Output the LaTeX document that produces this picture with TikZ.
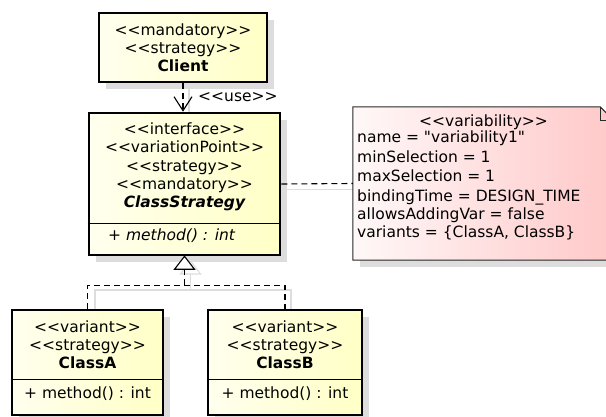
\documentclass[tikz,border=0pt]{standalone}
\usepackage{fontspec}
\newfontfamily\umlfont{DejaVu Sans}
\usetikzlibrary{arrows.meta,shadows}

\definecolor{boxlite}{RGB}{255,255,238}
\definecolor{boxdeep}{RGB}{255,255,198}
\definecolor{notelite}{RGB}{255,248,248}
\definecolor{notedeep}{RGB}{255,200,200}
\definecolor{shadegray}{RGB}{221,221,221}
\definecolor{notebord}{RGB}{40,40,40}

\tikzset{
  classbox/.style={rectangle, draw=black, line width=2.6pt, inner sep=0pt,
    left color=boxlite, right color=boxdeep,
    drop shadow={shadow xshift=7pt, shadow yshift=-7pt, fill=shadegray, opacity=1}},
  notebox/.style={rectangle, inner sep=0pt},
  txt/.style={font=\umlfont\fontsize{15.5}{18}\selectfont, inner sep=0pt},
  sepline/.style={draw=black, line width=1.1pt},
  depline/.style={draw=black, line width=1.1pt, dash pattern=on 6pt off 4pt},
  conshadow/.style={draw=shadegray, line width=1.1pt, shift={(6,6)}},
  opentip/.style={-{Straight Barb[length=14pt, width=18pt, line width=1.1pt]}},
}
\newcommand\umltext[5][base]{\node[txt, anchor=#1] (#2) at (#3,#4) {#5};}

\begin{document}
\begin{tikzpicture}[x=1pt, y=-1pt]
\useasboundingbox (0,0) rectangle (606,417);
\clip (0,0) rectangle (606,417);

% light shadows of the connectors
\draw[conshadow] (183,82) -- (183,113);
\draw[conshadow] (89,310) -- (89,284) -- (285,284) -- (285,310);
\draw[conshadow] (184.5,284) -- (184.5,268);
\draw[conshadow] (184.5,255) -- (174.5,268) -- (194.5,268) -- cycle;
\draw[conshadow] (280,183.5) -- (353,183.5);

% class boxes
\node[classbox, minimum width=168pt, minimum height=69pt] (client) at (183,47.5) {};
\node[classbox, minimum width=191pt, minimum height=142pt] (strat) at (184.5,184) {};
\node[classbox, minimum width=151pt, minimum height=105pt] (classa) at (87.5,362.5) {};
\node[classbox, minimum width=154pt, minimum height=105pt] (classb) at (285,362.5) {};

% compartment separators
\draw[sepline] ([yshift=33pt]strat.south west) -- ([yshift=33pt]strat.south east);
\draw[sepline] ([yshift=37pt]classa.south west) -- ([yshift=37pt]classa.south east);
\draw[sepline] ([yshift=37pt]classb.south west) -- ([yshift=37pt]classb.south east);

% variability note with folded corner
\node[notebox, minimum width=261pt, minimum height=153pt] (note) at (483.5,183.5) {};
\fill[shadegray] ([xshift=7pt,yshift=-7pt]note.north west) rectangle ([xshift=7pt,yshift=-7pt]note.south east);
\shade[left color=notelite, right color=notedeep]
  (note.north west) -- ([xshift=-14pt]note.north east) -- ([yshift=-14pt]note.north east)
  -- (note.south east) -- (note.south west) -- cycle;
\draw[notebord, line width=1pt]
  (note.north west) -- ([xshift=-14pt]note.north east) -- ([yshift=-14pt]note.north east)
  -- (note.south east) -- (note.south west) -- cycle;
\draw[notebord, line width=1pt] ([xshift=-14pt]note.north east) |- ([yshift=-14pt]note.north east);

% texts
\umltext{c1}{183}{36}{<<mandatory>>}
\umltext{c2}{183}{54}{<<strategy>>}
\umltext{c3}{183}{72}{\bfseries Client}

\umltext{s1}{184.5}{135}{<<interface>>}
\umltext{s2}{184.5}{153}{<<variationPoint>>}
\umltext{s3}{184.5}{172}{<<strategy>>}
\umltext{s4}{184.5}{190}{<<mandatory>>}
\umltext{s5}{184.5}{208}{\bfseries\itshape ClassStrategy}
\umltext[base west]{s6}{108}{241}{\itshape + method() : int}

\umltext{a1}{87.5}{332}{<<variant>>}
\umltext{a2}{87.5}{350}{<<strategy>>}
\umltext{a3}{87.5}{368}{\bfseries ClassA}
\umltext{a4}{87.5}{398}{+ method() : int}

\umltext{b1}{285}{332}{<<variant>>}
\umltext{b2}{285}{350}{<<strategy>>}
\umltext{b3}{285}{368}{\bfseries ClassB}
\umltext{b4}{285}{398}{+ method() : int}

\umltext{n0}{483.5}{127}{<<variability>>}
\umltext[base west]{n1}{357}{143}{name = "variability1"}
\umltext[base west]{n2}{357}{163}{minSelection = 1}
\umltext[base west]{n3}{357}{182}{maxSelection = 1}
\umltext[base west]{n4}{357}{202}{bindingTime = DESIGN\_TIME}
\umltext[base west]{n5}{357}{220}{allowsAddingVar = false}
\umltext[base west]{n6}{357}{238}{variants = \{ClassA, ClassB\}}

% dependency <<use>>
\draw[depline, opentip] (client.south) -- (client.south |- strat.north);
\umltext[base west]{uselbl}{198}{102}{<<use>>}

% realization: dashed lines joined under an open triangle
\coordinate (hub) at ([yshift=-29pt]strat.south);
\draw[depline] (classa.north) |- (hub) -| (classb.north);
\draw[depline] (hub) -- ([yshift=-13pt]strat.south);
\draw[black, line width=1.1pt, fill=white] (strat.south) -- ++(-10,13) -- ++(20,0) -- cycle;

% note attachment
\draw[depline] (strat.east) -- (note.west);
\end{tikzpicture}
\end{document}
